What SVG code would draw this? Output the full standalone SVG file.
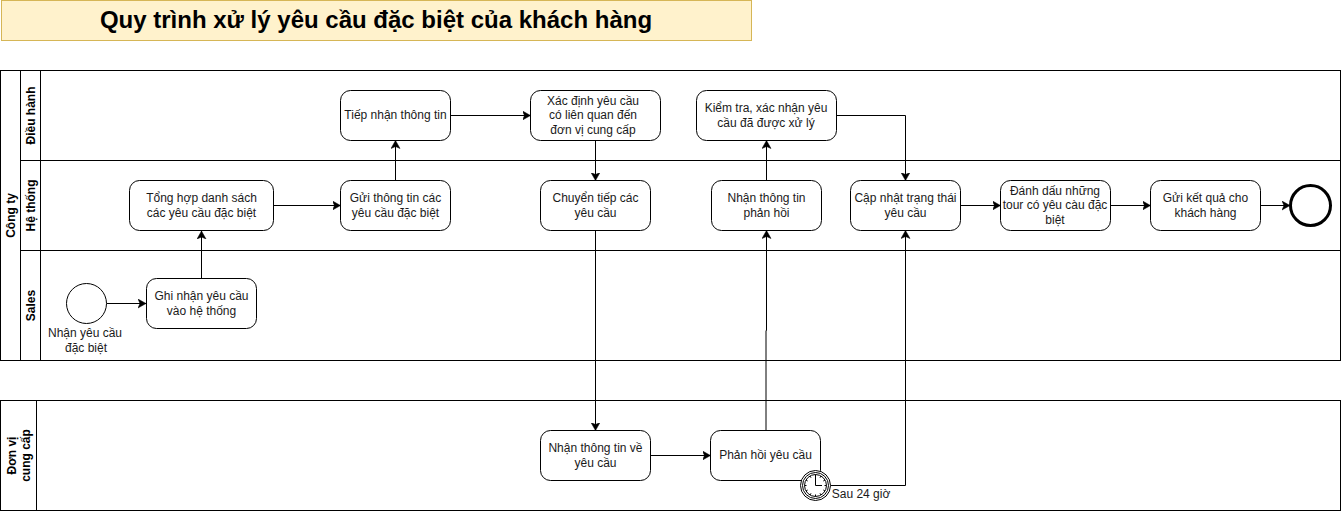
<svg xmlns="http://www.w3.org/2000/svg" width="1342" height="511" viewBox="0 0 1342 511">
<style>
text{font-family:"Liberation Sans",Arial,sans-serif;font-size:12px;fill:#1a1a1a;text-anchor:middle}
.b{font-weight:bold;fill:#000}
.lane{fill:#fff;stroke:#000;stroke-width:1}
.task{fill:#fff;stroke:#000;stroke-width:1}
.c{fill:none;stroke:#000;stroke-width:1;marker-end:url(#a)}
</style>
<defs>
<marker id="a" markerUnits="userSpaceOnUse" markerWidth="9" markerHeight="10" refX="8" refY="5" orient="auto"><path d="M0 0.5L8 5L0 9.5L2 5Z" fill="#000" stroke="#000" stroke-width="0.5"/></marker>
</defs>
<g id="title"><rect x="1.5" y="0.5" width="750" height="40" fill="#fff2cc" stroke="#d6b656"/><text class="b" x="376" y="28" style="font-size:24px">Quy trình xử lý yêu cầu đặc biệt của khách hàng</text></g>
<g id="pool-cong-ty">
<rect class="lane" x="0.5" y="70.5" width="1340" height="290"/>
<path d="M20.5 70.5V360.5M40.5 70.5V360.5M20.500 160.5H1340.5M20.5 250.5H1340.5" fill="none" stroke="#000"/>
<text class="b" transform="translate(14.5 215.5) rotate(-90)">Công ty</text>
<text class="b" transform="translate(34.5 115.5) rotate(-90)">Điều hành</text>
<text class="b" transform="translate(34.5 205.5) rotate(-90)">Hệ thống</text>
<text class="b" transform="translate(34.5 305.5) rotate(-90)">Sales</text>
</g>
<g id="pool-don-vi">
<rect class="lane" x="0.5" y="400.5" width="1340" height="110"/>
<path d="M36.5 400.5V510.5" stroke="#000"/>
<text class="b" transform="rotate(-90 16 455.5)"><tspan x="16" y="455.5">Đơn vị</tspan><tspan x="16" y="469.5">cung cấp</tspan></text>
</g>
<g id="connectors">
<path class="c" d="M106.5 303.5H146"/>
<path class="c" d="M201.500 278V231"/>
<path class="c" d="M273.5 205.5H340.5"/>
<path class="c" d="M395.5 180.5V140.5"/>
<path class="c" d="M450.5 115.5H530.5"/>
<path class="c" d="M595.5 140.5V180.5"/>
<path class="c" d="M595.5 230.5V430.5"/>
<path class="c" d="M650.5 455.5H710.5"/>
<path class="c" d="M766 430.5V330.5H766.5V230.5"/>
<path class="c" d="M766.5 180.5V140.5"/>
<path class="c" d="M836.5 115.5H905.5V180.5"/>
<path class="c" d="M830.5 485.5H905.5V230.5"/>
<path class="c" d="M960.5 205.5H1000.5"/>
<path class="c" d="M1110.5 205.5H1150.5"/>
<path class="c" d="M1260.5 205.5H1290"/>
</g>
<g id="start"><circle cx="86.5" cy="303.5" r="20" fill="#fff" stroke="#000"/><text x="85" y="337">Nhận yêu cầu</text><text x="86" y="352">đặc biệt</text></g>
<g id="ghi-nhan"><rect class="task" x="146.5" y="278.5" width="110" height="50" rx="10"/><text x="201.5" y="300">Ghi nhận yêu cầu</text><text x="201.5" y="315">vào hệ thống</text></g>
<g id="tong-hop"><rect class="task" x="129.5" y="180.5" width="144" height="50" rx="10"/><text x="201.5" y="202">Tổng hợp danh sách</text><text x="201.5" y="217">các yêu cầu đặc biệt</text></g>
<g id="gui-thong-tin"><rect class="task" x="340.5" y="180.5" width="110" height="50" rx="10"/><text x="395.5" y="202">Gửi thông tin các</text><text x="395.5" y="217">yêu cầu đặc biệt</text></g>
<g id="tiep-nhan"><rect class="task" x="340.5" y="90.5" width="110" height="50" rx="10"/><text x="395.5" y="119">Tiếp nhận thông tin</text></g>
<g id="xac-dinh"><rect class="task" x="530.5" y="90.5" width="130" height="50" rx="10"/><text x="593" y="105">Xác định yêu cầu</text><text x="593" y="119">có liên quan đến</text><text x="593" y="134">đơn vị cung cấp</text></g>
<g id="kiem-tra"><rect class="task" x="696.5" y="90.5" width="140" height="50" rx="10"/><text x="766" y="112">Kiểm tra, xác nhận yêu</text><text x="766" y="127">cầu đã được xử lý</text></g>
<g id="chuyen-tiep"><rect class="task" x="540.5" y="180.5" width="110" height="50" rx="10"/><text x="595.5" y="202">Chuyển tiếp các</text><text x="595.5" y="217">yêu cầu</text></g>
<g id="nhan-phan-hoi"><rect class="task" x="711.5" y="180.5" width="110" height="50" rx="10"/><text x="766.5" y="202">Nhận thông tin</text><text x="766.5" y="217">phản hồi</text></g>
<g id="cap-nhat"><rect class="task" x="850.5" y="180.5" width="110" height="50" rx="10"/><text x="905.5" y="202">Cập nhật trạng thái</text><text x="905.5" y="217">yêu cầu</text></g>
<g id="danh-dau"><rect class="task" x="1000.5" y="180.5" width="110" height="50" rx="10"/><text x="1055" y="195">Đánh dấu những</text><text x="1055" y="209">tour có yêu càu đặc</text><text x="1055" y="224">biệt</text></g>
<g id="gui-ket-qua"><rect class="task" x="1150.5" y="180.5" width="110" height="50" rx="10"/><text x="1205.5" y="202">Gửi kết quả cho</text><text x="1205.5" y="217">khách hàng</text></g>
<g id="end"><circle cx="1310.5" cy="205.5" r="20" fill="#fff" stroke="#000" stroke-width="3"/></g>
<g id="nhan-thong-tin"><rect class="task" x="540.5" y="430.5" width="110" height="50" rx="10"/><text x="595.5" y="452">Nhận thông tin về</text><text x="595.5" y="467">yêu cầu</text></g>
<g id="phan-hoi"><rect class="task" x="710.5" y="430.5" width="110" height="50" rx="10"/><text x="765.5" y="459">Phản hồi yêu cầu</text></g>
<g id="timer"><circle cx="815.5" cy="485.5" r="15" fill="#fff" stroke="#000"/><circle cx="815.5" cy="485.5" r="13" fill="#fff" stroke="#000"/><circle cx="815.5" cy="485.5" r="11" fill="#fff" stroke="#000"/><path d="M815.5 476V485.5H822M815.5 474.5v2M815.5 494.5v2M804.5 485.5h2M824.5 485.5h2M810 476l1 1.700M821 476l-1 1.700M806 480l1.700 1M825 480l-1.700 1M806 491l1.700-1M825 491l-1.700-1M810 495l1-1.700M821 495l-1-1.700" fill="none" stroke="#000"/><text x="861" y="498">Sau 24 giờ</text></g>
</svg>
